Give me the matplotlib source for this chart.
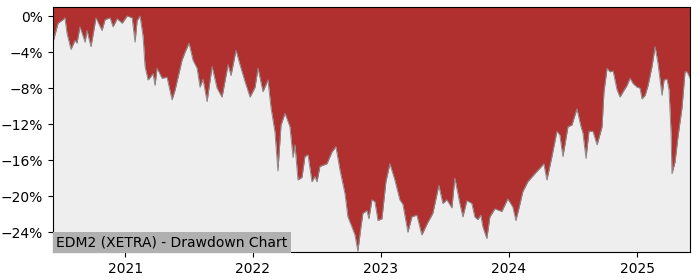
import datetime as dt
import matplotlib
matplotlib.use("Agg")
import matplotlib.pyplot as plt
import matplotlib.dates as mdates
from matplotlib.ticker import PercentFormatter

# time as decimal years, drawdown in percent
years = [
    2020.438, 2020.477, 2020.516, 2020.531, 2020.547, 2020.578, 2020.609, 2020.625,
    2020.648, 2020.688, 2020.703, 2020.734, 2020.773, 2020.820, 2020.844, 2020.883,
    2020.906, 2020.938, 2020.977, 2021.016, 2021.055, 2021.078, 2021.094, 2021.117,
    2021.141, 2021.156, 2021.180, 2021.219, 2021.234, 2021.250, 2021.289, 2021.328,
    2021.367, 2021.391, 2021.445, 2021.469, 2021.500, 2021.531, 2021.563, 2021.586,
    2021.609, 2021.641, 2021.680, 2021.719, 2021.758, 2021.805, 2021.828, 2021.867,
    2021.898, 2021.938, 2021.977, 2022.016, 2022.039, 2022.078, 2022.117, 2022.141,
    2022.172, 2022.195, 2022.219, 2022.250, 2022.289, 2022.313, 2022.328, 2022.352,
    2022.383, 2022.406, 2022.430, 2022.461, 2022.484, 2022.500, 2022.523, 2022.578,
    2022.617, 2022.648, 2022.680, 2022.719, 2022.742, 2022.773, 2022.797, 2022.820,
    2022.844, 2022.859, 2022.891, 2022.906, 2022.930, 2022.953, 2022.977, 2023.008,
    2023.039, 2023.070, 2023.109, 2023.148, 2023.172, 2023.211, 2023.242, 2023.281,
    2023.320, 2023.367, 2023.406, 2023.453, 2023.484, 2023.516, 2023.555, 2023.578,
    2023.617, 2023.641, 2023.672, 2023.711, 2023.734, 2023.758, 2023.781, 2023.797,
    2023.828, 2023.852, 2023.891, 2023.945, 2023.992, 2024.031, 2024.055, 2024.078,
    2024.109, 2024.148, 2024.203, 2024.242, 2024.273, 2024.297, 2024.336, 2024.375,
    2024.398, 2024.422, 2024.461, 2024.492, 2024.531, 2024.563, 2024.578, 2024.602,
    2024.625, 2024.656, 2024.688, 2024.727, 2024.742, 2024.766, 2024.789, 2024.813,
    2024.844, 2024.867, 2024.891, 2024.922, 2024.945, 2024.969, 2025.000, 2025.023,
    2025.039, 2025.063, 2025.086, 2025.117, 2025.141, 2025.164, 2025.195, 2025.211,
    2025.234, 2025.250, 2025.266, 2025.273, 2025.297, 2025.320, 2025.352, 2025.375,
    2025.391, 2025.414,
]
drawdown = [
    -2.9, -0.8, -0.4, -0.2, -1.9, -3.7, -2.7, -3.0,
    -1.2, -2.9, -1.6, -3.4, -0.2, -1.6, -0.4, -0.2,
    -1.2, -0.3, -0.8, 0.0, -0.2, -2.9, -0.5, 0.0,
    -2.3, -5.6, -7.1, -6.4, -7.7, -5.8, -6.9, -6.8,
    -9.3, -8.2, -4.9, -4.0, -3.0, -4.9, -5.8, -7.9,
    -7.0, -9.5, -5.6, -8.0, -9.0, -5.4, -6.6, -3.8,
    -5.4, -7.3, -9.0, -7.9, -5.8, -8.4, -7.1, -10.2,
    -12.9, -17.2, -12.1, -10.8, -12.3, -15.7, -14.3, -18.2,
    -17.9, -15.6, -15.4, -18.4, -17.8, -18.4, -16.7, -16.4,
    -15.1, -14.5, -17.1, -19.7, -22.3, -23.4, -24.3, -26.1,
    -23.4, -21.9, -21.6, -22.5, -20.4, -20.6, -22.7, -22.5,
    -18.4, -16.4, -18.2, -20.4, -20.9, -24.0, -22.3, -22.1,
    -24.3, -22.9, -21.9, -18.8, -20.8, -20.4, -21.3, -18.0,
    -20.8, -22.3, -20.5, -20.8, -22.3, -22.6, -22.1, -23.4,
    -24.7, -22.3, -21.4, -21.7, -20.3, -21.2, -22.7, -21.4,
    -19.5, -18.4, -17.5, -16.9, -16.4, -18.2, -15.6, -12.8,
    -13.2, -15.6, -12.3, -12.1, -10.3, -12.3, -13.0, -15.8,
    -12.8, -12.8, -14.3, -12.3, -8.4, -5.8, -6.2, -6.1,
    -8.2, -9.0, -8.4, -7.7, -6.9, -7.5, -7.9, -8.0,
    -9.2, -8.8, -7.7, -5.6, -3.4, -5.3, -8.8, -7.1,
    -7.0, -8.2, -13.0, -17.5, -16.2, -13.4, -10.1, -6.2,
    -6.2, -6.9,
]
y_ticks = [0, -4, -8, -12, -16, -20, -24]
title = "EDM2 (XETRA) - Drawdown Chart"


def to_date(y):
    start = dt.datetime(int(y), 1, 1)
    length = (dt.datetime(int(y) + 1, 1, 1) - start).days
    return start + dt.timedelta(days=(y - int(y)) * length)


dates = [to_date(y) for y in years]

fig = plt.figure(figsize=(7, 2.8), dpi=100)
ax = fig.add_axes([0.0757, 0.1, 0.91, 0.875])
ax.set_facecolor("#eeeeee")

ax.fill_between(dates, drawdown, 1.0, color="#b03030", linewidth=0)
ax.plot(dates, drawdown, color="#8a8a8a", linewidth=0.7)

ax.set_xlim(dates[0], dates[-1])
ax.set_ylim(-26.2, 1.0)
ax.set_yticks(y_ticks)
ax.yaxis.set_major_formatter(PercentFormatter(xmax=100, decimals=0))
ax.xaxis.set_major_locator(mdates.YearLocator())
ax.xaxis.set_major_formatter(mdates.DateFormatter("%Y"))

ax.text(0.005, 0.012, title, transform=ax.transAxes, fontsize=10,
        ha="left", va="bottom",
        bbox=dict(facecolor="#b0b0b0", edgecolor="none", pad=2.5))

fig.savefig("out.png", dpi=100)
